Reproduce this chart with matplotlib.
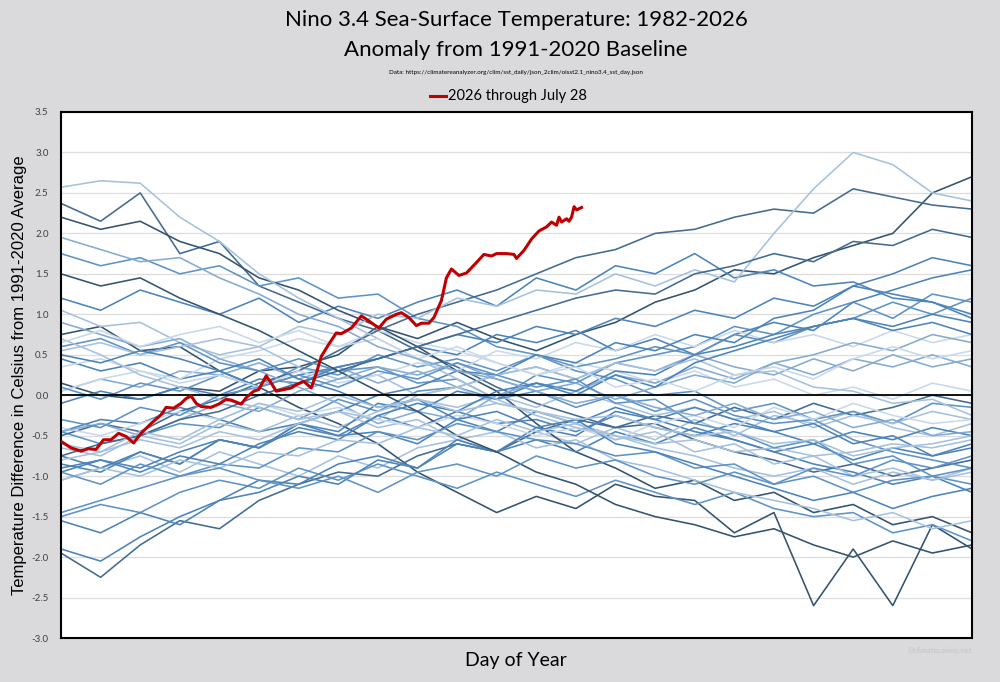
import matplotlib
matplotlib.use("Agg")
import matplotlib.pyplot as plt
from matplotlib.lines import Line2D
import numpy as np

# Nino 3.4 anomalies (deg C), 24 values per year, early Jan .. late Dec
y1982 = [0.15, 0.0, -0.05, 0.1, 0.05, 0.3, 0.35, 0.5, 0.85, 0.7, 0.9, 0.7, 0.55, 0.75, 0.9, 1.15, 1.3, 1.55, 1.5, 1.7, 1.85, 2.0, 2.5, 2.7]
y1983 = [2.37, 2.15, 2.5, 1.75, 1.9, 1.35, 1.15, 0.95, 0.8, 0.55, 0.35, 0.1, -0.1, -0.25, -0.4, -0.35, -0.55, -0.7, -0.8, -0.95, -0.85, -1.0, -0.9, -0.8]
y1984 = [-0.45, -0.3, -0.35, -0.15, -0.3, -0.45, -0.35, -0.5, -0.45, -0.6, -0.3, -0.45, -0.2, -0.35, -0.15, -0.3, -0.45, -0.55, -0.7, -0.85, -0.95, -1.1, -1.0, -1.2]
y1985 = [-1.05, -0.9, -0.75, -0.95, -0.7, -0.85, -1.0, -0.75, -0.9, -0.65, -0.55, -0.7, -0.45, -0.6, -0.4, -0.55, -0.3, -0.5, -0.25, -0.35, -0.2, -0.4, -0.5, -0.35]
y1986 = [-0.45, -0.6, -0.5, -0.35, -0.4, -0.15, -0.3, -0.05, -0.2, 0.05, 0.1, -0.05, 0.25, 0.15, 0.4, 0.5, 0.6, 0.85, 0.75, 1.0, 1.15, 0.95, 1.25, 1.15]
y1987 = [1.2, 1.05, 1.3, 1.15, 1.0, 1.2, 0.9, 1.1, 0.95, 1.15, 1.3, 1.1, 1.45, 1.3, 1.6, 1.5, 1.75, 1.45, 1.55, 1.35, 1.4, 1.2, 1.15, 0.95]
y1988 = [0.75, 0.85, 0.55, 0.6, 0.3, 0.1, -0.15, -0.35, -0.6, -0.95, -1.2, -1.45, -1.25, -1.4, -1.1, -1.25, -1.3, -1.7, -1.45, -2.6, -1.9, -2.6, -1.6, -1.9]
y1989 = [-1.95, -2.25, -1.85, -1.55, -1.65, -1.3, -1.1, -0.95, -1.0, -0.75, -0.6, -0.7, -0.45, -0.3, -0.4, -0.25, -0.35, -0.15, -0.3, -0.1, -0.25, -0.15, 0.0, -0.1]
y1990 = [0.05, 0.2, 0.1, 0.3, 0.25, 0.4, 0.2, 0.35, 0.15, 0.3, 0.1, 0.25, 0.35, 0.2, 0.4, 0.3, 0.5, 0.35, 0.25, 0.45, 0.3, 0.5, 0.35, 0.45]
y1991 = [0.45, 0.3, 0.4, 0.2, 0.3, 0.1, 0.25, 0.35, 0.45, 0.6, 0.5, 0.75, 0.65, 0.8, 0.55, 0.7, 0.5, 0.75, 0.9, 0.8, 1.15, 1.3, 1.45, 1.55]
y1992 = [1.75, 1.6, 1.7, 1.5, 1.6, 1.35, 1.45, 1.2, 1.25, 0.95, 0.85, 0.6, 0.5, 0.3, 0.2, 0.0, 0.05, -0.2, -0.1, -0.3, -0.2, -0.35, -0.1, -0.15]
y1993 = [0.05, 0.2, 0.3, 0.2, 0.45, 0.55, 0.7, 0.6, 0.8, 0.65, 0.55, 0.4, 0.25, 0.4, 0.3, 0.15, 0.3, 0.1, 0.2, 0.0, 0.1, -0.05, 0.15, 0.05]
y1994 = [0.1, -0.05, 0.15, 0.05, 0.25, 0.1, 0.35, 0.25, 0.5, 0.35, 0.45, 0.3, 0.5, 0.35, 0.45, 0.6, 0.5, 0.75, 0.65, 0.85, 0.95, 1.15, 1.0, 1.2]
y1995 = [1.05, 0.85, 0.9, 0.65, 0.5, 0.6, 0.35, 0.2, 0.25, 0.0, 0.1, -0.1, -0.2, -0.35, -0.5, -0.65, -0.75, -0.9, -1.0, -0.9, -1.1, -0.95, -1.05, -0.9]
y1996 = [-0.95, -0.8, -0.9, -0.7, -0.55, -0.65, -0.4, -0.5, -0.25, -0.4, -0.2, -0.35, -0.3, -0.45, -0.25, -0.4, -0.5, -0.35, -0.45, -0.6, -0.45, -0.55, -0.4, -0.5]
y1997 = [-0.5, -0.35, -0.45, -0.2, -0.05, 0.15, 0.3, 0.55, 0.8, 1.0, 1.15, 1.3, 1.5, 1.7, 1.8, 2.0, 2.05, 2.2, 2.3, 2.25, 2.55, 2.45, 2.35, 2.3]
y1998 = [2.2, 2.05, 2.15, 1.9, 1.75, 1.45, 1.3, 1.05, 0.85, 0.6, 0.3, 0.05, -0.35, -0.7, -0.9, -1.15, -1.05, -1.3, -1.2, -1.45, -1.35, -1.6, -1.5, -1.7]
y1999 = [-1.5, -1.35, -1.45, -1.2, -1.05, -1.15, -0.9, -1.05, -0.85, -1.0, -1.15, -0.95, -1.1, -1.25, -1.05, -1.2, -1.35, -1.2, -1.4, -1.5, -1.45, -1.7, -1.6, -1.8]
y2000 = [-1.9, -2.05, -1.75, -1.5, -1.3, -1.05, -1.1, -0.85, -0.75, -0.9, -0.6, -0.7, -0.55, -0.7, -0.45, -0.6, -0.4, -0.55, -0.7, -0.6, -0.8, -0.65, -0.75, -0.6]
y2001 = [-0.65, -0.75, -0.5, -0.6, -0.35, -0.45, -0.25, -0.4, -0.2, -0.05, -0.15, 0.0, -0.15, 0.05, -0.1, -0.25, -0.15, -0.3, -0.2, -0.4, -0.25, -0.35, -0.2, -0.3]
y2002 = [-0.1, 0.05, -0.05, 0.1, 0.0, 0.2, 0.15, 0.35, 0.45, 0.6, 0.75, 0.65, 0.85, 0.75, 0.95, 0.85, 1.05, 0.95, 1.2, 1.1, 1.35, 1.25, 1.15, 1.0]
y2003 = [0.9, 0.75, 0.6, 0.7, 0.45, 0.3, 0.1, -0.1, -0.35, -0.2, -0.3, 0.0, 0.15, 0.05, 0.25, 0.15, 0.35, 0.2, 0.4, 0.25, 0.45, 0.35, 0.5, 0.35]
y2004 = [0.35, 0.45, 0.3, 0.15, 0.25, 0.1, 0.3, 0.15, 0.25, 0.4, 0.3, 0.55, 0.45, 0.65, 0.55, 0.75, 0.6, 0.8, 0.65, 0.75, 0.6, 0.8, 0.65, 0.75]
y2005 = [0.6, 0.7, 0.5, 0.65, 0.4, 0.3, 0.45, 0.3, 0.35, 0.15, 0.2, -0.05, 0.05, -0.15, 0.0, -0.2, -0.05, -0.25, -0.35, -0.3, -0.55, -0.7, -0.8, -0.9]
y2006 = [-0.85, -0.95, -0.7, -0.85, -0.55, -0.65, -0.35, -0.45, -0.1, -0.2, 0.05, -0.05, 0.15, 0.05, 0.3, 0.25, 0.5, 0.6, 0.75, 0.85, 0.95, 0.85, 1.0, 0.9]
y2007 = [0.7, 0.5, 0.25, 0.1, -0.05, -0.15, -0.3, -0.2, -0.4, -0.3, -0.55, -0.45, -0.65, -0.55, -0.8, -0.9, -1.05, -1.2, -1.3, -1.4, -1.55, -1.45, -1.65, -1.55]
y2008 = [-1.55, -1.7, -1.45, -1.6, -1.3, -1.2, -1.0, -1.1, -0.8, -0.9, -0.55, -0.7, -0.4, -0.5, -0.2, -0.3, -0.15, -0.3, -0.45, -0.35, -0.6, -0.5, -0.75, -0.65]
y2009 = [-0.75, -0.9, -0.7, -0.85, -0.55, -0.65, -0.35, -0.2, 0.0, 0.1, 0.3, 0.25, 0.5, 0.4, 0.65, 0.55, 0.75, 0.65, 0.95, 1.05, 1.35, 1.5, 1.7, 1.6]
y2010 = [1.5, 1.35, 1.45, 1.2, 1.0, 0.8, 0.55, 0.3, 0.05, -0.2, -0.5, -0.7, -0.95, -1.1, -1.35, -1.5, -1.6, -1.75, -1.65, -1.85, -2.0, -1.8, -1.95, -1.85]
y2011 = [-1.45, -1.3, -1.15, -1.0, -0.85, -0.9, -0.65, -0.7, -0.45, -0.55, -0.35, -0.45, -0.55, -0.6, -0.75, -0.7, -0.9, -0.85, -1.1, -1.0, -1.2, -1.05, -1.0, -1.1]
y2012 = [-0.8, -0.7, -0.55, -0.65, -0.45, -0.55, -0.35, -0.2, -0.3, 0.0, 0.1, 0.25, 0.35, 0.2, 0.4, 0.3, 0.45, 0.25, 0.3, 0.1, 0.05, -0.1, -0.05, -0.25]
y2013 = [-0.4, -0.5, -0.35, -0.2, -0.3, -0.1, -0.25, -0.15, -0.3, -0.4, -0.25, -0.35, -0.5, -0.4, -0.55, -0.35, -0.25, -0.4, -0.15, -0.3, -0.1, -0.25, -0.35, -0.3]
y2014 = [-0.45, -0.35, -0.5, -0.3, -0.1, -0.2, 0.05, 0.2, 0.35, 0.25, 0.4, 0.2, 0.05, 0.15, -0.05, 0.1, 0.25, 0.15, 0.4, 0.5, 0.65, 0.55, 0.75, 0.65]
y2015 = [0.55, 0.65, 0.5, 0.6, 0.7, 0.6, 0.85, 0.75, 1.0, 0.95, 1.2, 1.1, 1.3, 1.25, 1.5, 1.35, 1.55, 1.4, 2.0, 2.55, 3.0, 2.85, 2.5, 2.4]
y2016 = [2.57, 2.65, 2.62, 2.2, 1.9, 1.5, 1.2, 0.95, 0.7, 0.45, 0.2, -0.05, -0.25, -0.4, -0.5, -0.6, -0.55, -0.7, -0.65, -0.75, -0.7, -0.6, -0.65, -0.55]
y2017 = [-0.3, -0.4, -0.15, -0.25, 0.0, 0.1, 0.25, 0.1, 0.3, 0.2, 0.4, 0.25, 0.1, 0.2, -0.1, -0.05, -0.35, -0.45, -0.65, -0.55, -0.85, -0.75, -1.0, -0.9]
y2018 = [-0.9, -0.8, -0.95, -0.75, -0.85, -0.6, -0.45, -0.55, -0.25, -0.1, -0.2, 0.05, 0.15, 0.0, 0.25, 0.1, 0.4, 0.55, 0.7, 0.85, 0.95, 0.8, 0.9, 0.75]
y2019 = [0.65, 0.8, 0.6, 0.75, 0.85, 0.65, 0.8, 0.6, 0.7, 0.45, 0.6, 0.4, 0.25, 0.35, 0.1, 0.2, 0.05, 0.25, 0.35, 0.2, 0.45, 0.6, 0.45, 0.55]
y2020 = [0.5, 0.4, 0.55, 0.45, 0.3, 0.45, 0.2, 0.05, -0.15, -0.05, -0.3, -0.2, -0.4, -0.3, -0.6, -0.7, -0.85, -1.0, -1.15, -1.3, -1.2, -1.4, -1.25, -1.15]
y2021 = [-1.05, -0.9, -1.0, -0.8, -0.9, -0.7, -0.75, -0.55, -0.6, -0.4, -0.5, -0.3, -0.45, -0.35, -0.55, -0.45, -0.7, -0.6, -0.85, -0.75, -1.0, -0.9, -1.05, -0.95]
y2022 = [-0.95, -1.1, -0.85, -1.0, -0.9, -1.05, -1.15, -1.0, -1.2, -0.95, -0.85, -1.0, -0.75, -0.9, -0.8, -1.0, -1.1, -0.95, -1.1, -0.9, -1.0, -0.8, -0.9, -0.75]
y2023 = [-0.75, -0.6, -0.5, -0.3, -0.2, 0.0, 0.15, 0.3, 0.45, 0.6, 0.75, 0.9, 1.05, 1.2, 1.3, 1.25, 1.5, 1.6, 1.75, 1.65, 1.9, 1.85, 2.05, 1.95]
y2024 = [1.95, 1.8, 1.65, 1.7, 1.45, 1.25, 1.0, 0.85, 0.6, 0.45, 0.3, 0.2, 0.05, -0.1, 0.0, -0.15, -0.25, -0.1, -0.3, -0.2, -0.4, -0.3, -0.5, -0.45]
y2025 = [-0.6, -0.7, -0.45, -0.55, -0.3, -0.1, -0.2, 0.0, -0.15, -0.05, -0.2, -0.1, -0.2, -0.3, -0.25, -0.4, -0.5, -0.45, -0.6, -0.55, -0.75, -0.65, -0.6, -0.5]

past_years = [y1982, y1983, y1984, y1985, y1986, y1987, y1988, y1989, y1990,
              y1991, y1992, y1993, y1994, y1995, y1996, y1997, y1998, y1999,
              y2000, y2001, y2002, y2003, y2004, y2005, y2006, y2007, y2008,
              y2009, y2010, y2011, y2012, y2013, y2014, y2015, y2016, y2017,
              y2018, y2019, y2020, y2021, y2022, y2023, y2024, y2025]

# 2026 so far (day of year, anomaly)
day_2026 = [1, 5, 9, 12, 15, 18, 21, 24, 27, 30, 33, 37, 41, 43, 46, 49, 51,
            53, 55, 57, 61, 64, 67, 69, 73, 75, 78, 80, 83, 85, 87, 90, 93, 95,
            98, 101, 103, 105, 108, 111, 113, 117, 121, 123, 128, 131, 135,
            137, 140, 143, 145, 148, 150, 153, 155, 157, 160, 163, 167, 170,
            173, 175, 179, 182, 183, 186, 189, 192, 195, 197, 199, 200, 201,
            203, 204, 205, 206, 207, 209]
anom_2026 = [-0.57, -0.65, -0.69, -0.66, -0.67, -0.55, -0.55, -0.47, -0.51,
             -0.59, -0.47, -0.35, -0.24, -0.15, -0.16, -0.10, -0.04, -0.01,
             -0.10, -0.14, -0.15, -0.11, -0.05, -0.06, -0.11, -0.03, 0.05,
             0.07, 0.24, 0.15, 0.05, 0.07, 0.09, 0.13, 0.17, 0.09, 0.27, 0.48,
             0.63, 0.77, 0.76, 0.83, 0.98, 0.94, 0.83, 0.94, 1.00, 1.02, 0.96,
             0.86, 0.89, 0.89, 0.96, 1.17, 1.45, 1.56, 1.48, 1.51, 1.64, 1.74,
             1.72, 1.75, 1.75, 1.74, 1.69, 1.79, 1.93, 2.03, 2.08, 2.14, 2.10,
             2.20, 2.14, 2.18, 2.15, 2.20, 2.33, 2.29, 2.32]

# line shades, one per year
D1, D2, M1, M2, ML, L1, L2 = ('#33536f', '#436b91', '#4c84ba', '#5e93c7',
                              '#85abd2', '#a6c1de', '#c9d8ea')
year_colors = [D1, D2, M1, L1, M2, M1, D1, D2, ML, M1, M2, L2, M2, L1, M1,
               D2, D1, M2, M1, L1, M1, ML, L2, M2, M1, L1, M1, M1, D1, M2,
               L1, L2, ML, L1, L1, M2, M1, L2, M1, L1, M2, D2, ML, L1]

half_month = np.linspace(1, 365, 24)

fig = plt.figure(figsize=(10, 6.82), dpi=100, facecolor='#dad9dc')
ax = fig.add_axes([0.061, 0.0645, 0.911, 0.7713])
ax.set_facecolor('white')

for vals, c in zip(past_years, year_colors):
    ax.plot(half_month, vals, color=c, lw=1.15, zorder=2)

ax.axhline(0, color='black', lw=1.3, zorder=3)
ax.plot(day_2026, anom_2026, color='#c00000', lw=2.2, zorder=4)

ax.set_xlim(1, 365)
ax.set_ylim(-3.0, 3.5)
yt = np.arange(-3.0, 3.51, 0.5)
ax.set_yticks(yt)
ax.set_yticklabels([f'{v:.1f}' for v in yt], family='Lato')
ax.set_xticks([])
ax.tick_params(axis='y', length=0, pad=9, labelsize=7, labelcolor='#404040')
ax.grid(axis='y', color='#dddddd', lw=0.9)
ax.set_axisbelow(True)
for s in ax.spines.values():
    s.set_linewidth(1.5)
    s.set_color('black')

fig.text(0.516, 0.971, 'Nino 3.4 Sea-Surface Temperature: 1982-2026',
         ha='center', va='center', fontsize=16, family='Lato')
fig.text(0.516, 0.927, 'Anomaly from 1991-2020 Baseline',
         ha='center', va='center', fontsize=16, family='Lato')
fig.text(0.516, 0.894,
         'Data: https://climatereanalyzer.org/clim/sst_daily/json_2clim/oisst2.1_nino3.4_sst_day.json',
         ha='center', va='center', fontsize=4.5, family='Lato')

fig.add_artist(Line2D([0.430, 0.446], [0.859, 0.859], transform=fig.transFigure,
                      color='#c00000', lw=2.2))
fig.text(0.448, 0.859, '2026 through July 28', ha='left', va='center',
         fontsize=10.5, family='Lato')

fig.text(0.02, 0.45, 'Temperature Difference in Celsius from 1991-2020 Average',
         rotation=90, ha='center', va='center', fontsize=12,
         family='Liberation Sans')
fig.text(0.516, 0.032, 'Day of Year', ha='center', va='center',
         fontsize=14, family='Lato')
fig.text(0.972, 0.047, '@climatecasino.net', ha='right', va='center',
         fontsize=5.5, color='#c4c4c4', family='Lato')

fig.savefig('out.png', dpi=100, facecolor=fig.get_facecolor())
